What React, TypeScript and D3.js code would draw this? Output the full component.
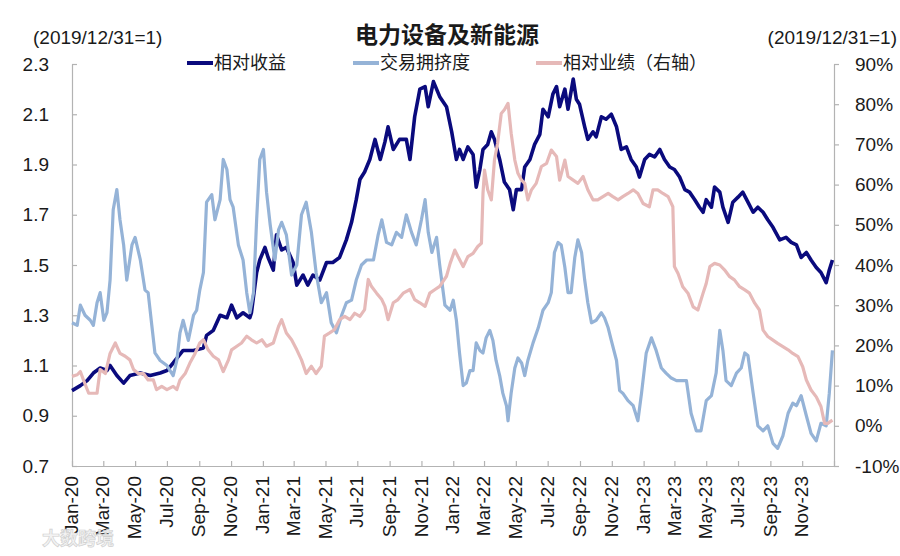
import {
  select,
  scaleTime,
  scaleLinear,
  axisLeft,
  axisRight,
  axisBottom,
  line,
  timeParse,
  timeFormat,
  timeMonth,
} from 'd3';
import { useRef, useEffect } from 'react';

// 相对收益 (left axis)
const relReturn: [string, number][] = [
  ['2020-01-01', 1.0], ['2020-01-17', 1.02], ['2020-01-30', 1.04], ['2020-02-11', 1.07],
  ['2020-02-24', 1.09], ['2020-03-08', 1.08], ['2020-03-14', 1.1], ['2020-03-27', 1.06],
  ['2020-04-09', 1.03], ['2020-04-21', 1.06], ['2020-05-11', 1.07], ['2020-05-30', 1.06],
  ['2020-06-18', 1.07], ['2020-07-01', 1.08], ['2020-07-13', 1.11], ['2020-08-01', 1.16],
  ['2020-08-21', 1.16], ['2020-09-09', 1.17], ['2020-09-15', 1.22], ['2020-09-28', 1.24],
  ['2020-10-11', 1.3], ['2020-10-24', 1.29], ['2020-11-02', 1.34], ['2020-11-12', 1.29],
  ['2020-11-24', 1.31], ['2020-12-07', 1.29], ['2020-12-10', 1.31], ['2020-12-20', 1.47],
  ['2020-12-26', 1.52], ['2021-01-05', 1.57], ['2021-01-11', 1.53], ['2021-01-21', 1.48],
  ['2021-01-27', 1.62], ['2021-02-06', 1.56], ['2021-02-15', 1.57], ['2021-02-28', 1.51],
  ['2021-03-07', 1.42], ['2021-03-19', 1.46], ['2021-03-28', 1.42], ['2021-04-07', 1.46],
  ['2021-04-20', 1.44], ['2021-05-03', 1.51], ['2021-05-15', 1.51], ['2021-05-28', 1.53],
  ['2021-06-10', 1.6], ['2021-06-20', 1.67], ['2021-06-29', 1.76], ['2021-07-06', 1.84],
  ['2021-07-15', 1.87], ['2021-07-25', 1.92], ['2021-08-04', 2.0], ['2021-08-14', 1.92],
  ['2021-08-23', 1.99], ['2021-08-29', 2.05], ['2021-09-08', 1.96], ['2021-09-20', 2.0],
  ['2021-10-03', 2.0], ['2021-10-10', 1.92], ['2021-10-19', 2.09], ['2021-10-29', 2.2],
  ['2021-11-08', 2.21], ['2021-11-14', 2.13], ['2021-11-24', 2.23], ['2021-12-06', 2.17],
  ['2021-12-19', 2.13], ['2021-12-29', 2.03], ['2022-01-07', 1.92], ['2022-01-13', 1.96],
  ['2022-01-20', 1.92], ['2022-01-29', 1.97], ['2022-02-08', 1.94], ['2022-02-14', 1.81],
  ['2022-02-21', 1.88], ['2022-02-27', 1.96], ['2022-03-08', 1.98], ['2022-03-15', 2.03],
  ['2022-03-21', 2.0], ['2022-03-31', 1.92], ['2022-04-09', 1.83], ['2022-04-19', 1.8],
  ['2022-04-26', 1.72], ['2022-05-02', 1.8], ['2022-05-12', 1.8], ['2022-05-18', 1.89],
  ['2022-05-28', 1.92], ['2022-06-06', 1.98], ['2022-06-16', 2.02], ['2022-06-22', 2.12],
  ['2022-07-02', 2.09], ['2022-07-11', 2.18], ['2022-07-18', 2.21], ['2022-07-24', 2.13],
  ['2022-08-03', 2.2], ['2022-08-09', 2.12], ['2022-08-19', 2.24], ['2022-08-25', 2.16],
  ['2022-08-31', 2.14], ['2022-09-10', 2.05], ['2022-09-16', 2.0], ['2022-09-26', 2.03],
  ['2022-10-02', 2.01], ['2022-10-12', 2.09], ['2022-10-21', 2.08], ['2022-10-31', 2.1],
  ['2022-11-10', 2.05], ['2022-11-19', 1.96], ['2022-11-29', 1.97], ['2022-12-08', 1.92],
  ['2022-12-18', 1.89], ['2022-12-24', 1.85], ['2023-01-03', 1.92], ['2023-01-12', 1.94],
  ['2023-01-22', 1.93], ['2023-02-01', 1.96], ['2023-02-10', 1.92], ['2023-02-20', 1.89],
  ['2023-03-01', 1.88], ['2023-03-11', 1.85], ['2023-03-21', 1.8], ['2023-03-30', 1.79],
  ['2023-04-09', 1.76], ['2023-04-18', 1.73], ['2023-04-25', 1.71], ['2023-05-01', 1.76],
  ['2023-05-11', 1.73], ['2023-05-17', 1.81], ['2023-05-27', 1.79], ['2023-06-02', 1.73],
  ['2023-06-12', 1.67], ['2023-06-21', 1.75], ['2023-07-01', 1.77], ['2023-07-10', 1.79],
  ['2023-07-20', 1.75], ['2023-07-30', 1.71], ['2023-08-08', 1.73], ['2023-08-18', 1.71],
  ['2023-08-27', 1.68], ['2023-09-06', 1.65], ['2023-09-19', 1.6], ['2023-10-01', 1.61],
  ['2023-10-11', 1.59], ['2023-10-21', 1.58], ['2023-10-30', 1.53], ['2023-11-09', 1.55],
  ['2023-11-18', 1.52], ['2023-11-28', 1.49], ['2023-12-07', 1.47], ['2023-12-17', 1.43],
  ['2023-12-23', 1.48], ['2023-12-29', 1.52],
];

// 交易拥挤度 (left axis)
const crowding: [string, number][] = [
  ['2020-01-01', 1.27], ['2020-01-11', 1.26], ['2020-01-17', 1.34], ['2020-01-26', 1.3],
  ['2020-02-05', 1.28], ['2020-02-11', 1.26], ['2020-02-18', 1.35], ['2020-02-24', 1.39],
  ['2020-03-02', 1.28], ['2020-03-08', 1.31], ['2020-03-14', 1.44], ['2020-03-20', 1.72],
  ['2020-03-27', 1.8], ['2020-04-02', 1.68], ['2020-04-09', 1.58], ['2020-04-15', 1.44],
  ['2020-04-25', 1.58], ['2020-05-01', 1.61], ['2020-05-11', 1.52], ['2020-05-20', 1.4],
  ['2020-05-26', 1.39], ['2020-06-02', 1.26], ['2020-06-08', 1.15], ['2020-06-18', 1.12],
  ['2020-07-01', 1.1], ['2020-07-13', 1.06], ['2020-07-20', 1.12], ['2020-07-26', 1.23],
  ['2020-08-01', 1.28], ['2020-08-11', 1.2], ['2020-08-21', 1.3], ['2020-08-27', 1.32],
  ['2020-09-02', 1.4], ['2020-09-09', 1.47], ['2020-09-15', 1.75], ['2020-09-25', 1.78],
  ['2020-10-01', 1.68], ['2020-10-11', 1.76], ['2020-10-17', 1.92], ['2020-10-24', 1.88],
  ['2020-10-30', 1.76], ['2020-11-05', 1.73], ['2020-11-15', 1.58], ['2020-11-24', 1.52],
  ['2020-12-01', 1.39], ['2020-12-07', 1.31], ['2020-12-14', 1.39], ['2020-12-20', 1.68],
  ['2020-12-26', 1.92], ['2021-01-02', 1.96], ['2021-01-08', 1.79], ['2021-01-15', 1.66],
  ['2021-01-24', 1.52], ['2021-01-31', 1.64], ['2021-02-06', 1.67], ['2021-02-15', 1.62],
  ['2021-02-25', 1.46], ['2021-03-07', 1.5], ['2021-03-16', 1.7], ['2021-03-25', 1.75],
  ['2021-04-04', 1.63], ['2021-04-13', 1.47], ['2021-04-23', 1.35], ['2021-05-03', 1.39],
  ['2021-05-12', 1.27], ['2021-05-22', 1.23], ['2021-06-01', 1.3], ['2021-06-10', 1.35],
  ['2021-06-20', 1.36], ['2021-06-29', 1.44], ['2021-07-09', 1.5], ['2021-07-19', 1.52],
  ['2021-08-01', 1.52], ['2021-08-10', 1.62], ['2021-08-17', 1.68], ['2021-08-26', 1.59],
  ['2021-09-05', 1.58], ['2021-09-14', 1.63], ['2021-09-24', 1.61], ['2021-10-03', 1.7],
  ['2021-10-13', 1.63], ['2021-10-22', 1.58], ['2021-11-01', 1.68], ['2021-11-08', 1.76],
  ['2021-11-14', 1.63], ['2021-11-21', 1.55], ['2021-11-30', 1.61], ['2021-12-06', 1.5],
  ['2021-12-16', 1.34], ['2021-12-26', 1.32], ['2022-01-01', 1.36], ['2022-01-07', 1.28],
  ['2022-01-13', 1.15], ['2022-01-20', 1.02], ['2022-01-26', 1.03], ['2022-02-02', 1.08],
  ['2022-02-08', 1.08], ['2022-02-14', 1.19], ['2022-02-21', 1.16], ['2022-02-27', 1.15],
  ['2022-03-05', 1.21], ['2022-03-12', 1.24], ['2022-03-18', 1.2], ['2022-03-24', 1.12],
  ['2022-03-31', 1.06], ['2022-04-06', 0.99], ['2022-04-13', 0.94], ['2022-04-16', 0.88],
  ['2022-04-22', 0.99], ['2022-04-29', 1.09], ['2022-05-05', 1.13], ['2022-05-12', 1.11],
  ['2022-05-18', 1.06], ['2022-05-24', 1.12], ['2022-06-03', 1.19], ['2022-06-13', 1.25],
  ['2022-06-22', 1.32], ['2022-07-02', 1.35], ['2022-07-08', 1.39], ['2022-07-14', 1.55],
  ['2022-07-21', 1.59], ['2022-07-27', 1.58], ['2022-08-03', 1.49], ['2022-08-09', 1.39],
  ['2022-08-15', 1.39], ['2022-08-22', 1.53], ['2022-08-28', 1.6], ['2022-09-04', 1.55],
  ['2022-09-10', 1.44], ['2022-09-16', 1.35], ['2022-09-23', 1.27], ['2022-10-02', 1.28],
  ['2022-10-12', 1.31], ['2022-10-18', 1.29], ['2022-10-25', 1.25], ['2022-10-31', 1.2],
  ['2022-11-10', 1.12], ['2022-11-16', 1.0], ['2022-11-22', 0.99], ['2022-12-02', 0.96],
  ['2022-12-12', 0.94], ['2022-12-21', 0.88], ['2022-12-28', 0.99], ['2023-01-06', 1.15],
  ['2023-01-16', 1.21], ['2023-01-25', 1.16], ['2023-02-04', 1.09], ['2023-02-13', 1.07],
  ['2023-02-23', 1.05], ['2023-03-05', 1.04], ['2023-03-14', 1.04], ['2023-03-24', 1.04],
  ['2023-04-02', 0.91], ['2023-04-12', 0.84], ['2023-04-21', 0.84], ['2023-05-01', 0.96],
  ['2023-05-11', 0.98], ['2023-05-20', 1.07], ['2023-05-27', 1.24], ['2023-06-02', 1.16],
  ['2023-06-08', 1.04], ['2023-06-18', 1.02], ['2023-06-28', 1.07], ['2023-07-07', 1.09],
  ['2023-07-14', 1.15], ['2023-07-20', 1.14], ['2023-07-30', 0.99], ['2023-08-08', 0.86],
  ['2023-08-18', 0.84], ['2023-08-27', 0.86], ['2023-09-06', 0.79], ['2023-09-15', 0.77],
  ['2023-09-25', 0.82], ['2023-10-05', 0.91], ['2023-10-14', 0.95], ['2023-10-21', 0.94],
  ['2023-10-30', 0.98], ['2023-11-09', 0.9], ['2023-11-18', 0.83], ['2023-11-28', 0.8],
  ['2023-12-07', 0.87], ['2023-12-17', 0.86], ['2023-12-23', 0.99], ['2023-12-29', 1.16],
];

// 相对业绩 (right axis, %)
const relPerf: [string, number][] = [
  ['2020-01-01', 12.3], ['2020-01-11', 12.7], ['2020-01-17', 13.5], ['2020-01-23', 11.4],
  ['2020-02-02', 8.1], ['2020-02-11', 8.1], ['2020-02-18', 8.1], ['2020-02-24', 14],
  ['2020-03-05', 13], ['2020-03-14', 18], ['2020-03-24', 20.6], ['2020-04-02', 18],
  ['2020-04-12', 17.3], ['2020-04-21', 16.4], ['2020-04-28', 14], ['2020-05-07', 13],
  ['2020-05-17', 13], ['2020-05-26', 11.4], ['2020-06-05', 11.4], ['2020-06-11', 9],
  ['2020-06-21', 9.8], ['2020-07-01', 9], ['2020-07-13', 9.8], ['2020-07-20', 9],
  ['2020-07-26', 11.4], ['2020-08-05', 13], ['2020-08-14', 15.6], ['2020-08-24', 18],
  ['2020-09-02', 20.6], ['2020-09-09', 21.4], ['2020-09-18', 18.9], ['2020-09-28', 17.3],
  ['2020-10-08', 16.4], ['2020-10-17', 13.5], ['2020-10-27', 16.4], ['2020-11-02', 18.9],
  ['2020-11-12', 19.8], ['2020-11-21', 20.6], ['2020-12-01', 22.3], ['2020-12-10', 21.4],
  ['2020-12-20', 20.6], ['2020-12-30', 21.4], ['2021-01-08', 19.8], ['2021-01-21', 20.6],
  ['2021-01-31', 24.7], ['2021-02-06', 26.4], ['2021-02-15', 23.1], ['2021-02-25', 21.4],
  ['2021-03-07', 18.9], ['2021-03-16', 16.4], ['2021-03-25', 13], ['2021-04-04', 14.8],
  ['2021-04-13', 13], ['2021-04-23', 14.8], ['2021-04-29', 22.3], ['2021-05-09', 23.1],
  ['2021-05-18', 23.9], ['2021-05-28', 26.4], ['2021-06-07', 27.2], ['2021-06-17', 26.4],
  ['2021-06-26', 28], ['2021-07-06', 27.2], ['2021-07-15', 28.9], ['2021-07-22', 36.4],
  ['2021-07-28', 34.7], ['2021-08-07', 33], ['2021-08-17', 31.4], ['2021-08-23', 29.7],
  ['2021-08-29', 26.4], ['2021-09-08', 30.6], ['2021-09-17', 31.4], ['2021-09-27', 33],
  ['2021-10-10', 33.9], ['2021-10-19', 31.4], ['2021-10-29', 30.6], ['2021-11-08', 29.7],
  ['2021-11-17', 33], ['2021-11-27', 33.9], ['2021-12-06', 34.7], ['2021-12-19', 37.2],
  ['2021-12-26', 40.4], ['2022-01-04', 43.7], ['2022-01-10', 42.1], ['2022-01-20', 39.6],
  ['2022-01-29', 42.1], ['2022-02-08', 42.9], ['2022-02-17', 44.6], ['2022-02-24', 45.4],
  ['2022-02-27', 57.8], ['2022-03-02', 63.6], ['2022-03-08', 58.7], ['2022-03-15', 56.2],
  ['2022-03-21', 66.1], ['2022-03-27', 70.3], ['2022-04-03', 77.7], ['2022-04-09', 78.6],
  ['2022-04-16', 80.2], ['2022-04-22', 72.8], ['2022-04-29', 66.1], ['2022-05-05', 62.8],
  ['2022-05-12', 61.1], ['2022-05-18', 60.3], ['2022-05-24', 56.2], ['2022-05-31', 58.7],
  ['2022-06-09', 60.3], ['2022-06-19', 64.5], ['2022-06-29', 65.3], ['2022-07-08', 68.6],
  ['2022-07-18', 67], ['2022-07-24', 61.1], ['2022-08-03', 66.1], ['2022-08-09', 62],
  ['2022-08-19', 61.1], ['2022-08-28', 60.3], ['2022-09-07', 62], ['2022-09-16', 58.7],
  ['2022-09-26', 56.2], ['2022-10-05', 56.2], ['2022-10-15', 57], ['2022-10-25', 57.8],
  ['2022-11-03', 57], ['2022-11-13', 56.2], ['2022-11-22', 57], ['2022-12-02', 57.8],
  ['2022-12-12', 58.7], ['2022-12-21', 57.8], ['2022-12-31', 55.3], ['2023-01-12', 54.5],
  ['2023-01-19', 58.7], ['2023-01-28', 58.7], ['2023-02-07', 57.8], ['2023-02-17', 57],
  ['2023-02-26', 54.5], ['2023-03-01', 39.6], ['2023-03-08', 37.9], ['2023-03-17', 34.6],
  ['2023-03-27', 33], ['2023-04-06', 29.6], ['2023-04-15', 28.8], ['2023-04-25', 33],
  ['2023-05-01', 35.4], ['2023-05-08', 39.6], ['2023-05-17', 40.4], ['2023-05-27', 40],
  ['2023-06-05', 38.8], ['2023-06-15', 37.1], ['2023-06-24', 36.3], ['2023-07-04', 34.6],
  ['2023-07-14', 33.8], ['2023-07-23', 33], ['2023-08-02', 30.5], ['2023-08-11', 28.8],
  ['2023-08-18', 23.8], ['2023-08-27', 22.2], ['2023-09-06', 21.3], ['2023-09-15', 20.5],
  ['2023-09-25', 19.7], ['2023-10-05', 18.9], ['2023-10-14', 18], ['2023-10-24', 17.2],
  ['2023-11-02', 14.7], ['2023-11-09', 11.4], ['2023-11-18', 8.9], ['2023-11-28', 7.2],
  ['2023-12-07', 4.8], ['2023-12-14', 0.6], ['2023-12-20', 0.6], ['2023-12-29', 1.4],
];

const leftTicks = [0.7, 0.9, 1.1, 1.3, 1.5, 1.7, 1.9, 2.1, 2.3];
const rightTicks = [-10, 0, 10, 20, 30, 40, 50, 60, 70, 80, 90];
const xStart = '2020-01-01';
const xEnd = '2024-01-01';

const title = '电力设备及新能源';
const baseLabel = '(2019/12/31=1)';
const seriesNames = ['相对收益', '交易拥挤度', '相对业绩（右轴）'];
const colors = ['#0a0a7d', '#95b3d7', '#e6b9b8'];

const W = 900;
const H = 556;
const margin = { top: 64, right: 66, bottom: 90, left: 72 };
const FONT = '"Liberation Sans", Arial, "Noto Sans CJK SC", sans-serif';
const CJK = '"Noto Sans CJK SC", "Liberation Sans", sans-serif';

const parse = timeParse('%Y-%m-%d');

const App = () => {
  const svgRef = useRef(null);

  useEffect(() => {
    const x = scaleTime()
      .domain([parse(xStart), parse(xEnd)])
      .range([margin.left, W - margin.right]);
    const yL = scaleLinear().domain([0.7, 2.3]).range([H - margin.bottom, margin.top]);
    const yR = scaleLinear().domain([-10, 90]).range([H - margin.bottom, margin.top]);

    const svg = select(svgRef.current);
    svg.selectAll('*').remove();

    const axisColor = '#b3b3b3';
    const styleAxis = (g) => {
      g.select('.domain').attr('stroke', axisColor).attr('stroke-width', 1.2);
      g.selectAll('line').attr('stroke', axisColor).attr('stroke-width', 1.2);
      g.selectAll('text')
        .attr('fill', '#1a1a1a')
        .attr('font-family', FONT)
        .attr('font-size', 19);
    };

    // left axis
    const gl = svg
      .append('g')
      .attr('transform', `translate(${margin.left},0)`)
      .call(axisLeft(yL).tickValues(leftTicks).tickSize(-5).tickSizeOuter(0).tickPadding(23).tickFormat((d) => d.toFixed(1)));
    styleAxis(gl);

    // right axis
    const gr = svg
      .append('g')
      .attr('transform', `translate(${W - margin.right},0)`)
      .call(axisRight(yR).tickValues(rightTicks).tickSize(5).tickSizeOuter(0).tickPadding(16).tickFormat((d) => `${d}%`));
    styleAxis(gr);

    // bottom axis
    const gb = svg
      .append('g')
      .attr('transform', `translate(0,${H - margin.bottom})`)
      .call(
        axisBottom(x)
          .ticks(timeMonth.every(2))
          .tickSize(-5)
          .tickSizeOuter(0)
          .tickFormat(timeFormat('%b-%y'))
      );
    styleAxis(gb);
    gb.selectAll('.tick')
      .filter((d) => +d >= +parse(xEnd))
      .select('text')
      .remove();
    gb.selectAll('text')
      .attr('text-anchor', 'end')
      .attr('transform', 'rotate(-90)')
      .attr('x', -10)
      .attr('y', -1)
      .attr('dy', '0.35em');

    // lines
    const lineL = line()
      .x((d) => x(parse(d[0])))
      .y((d) => yL(d[1]));
    const lineR = line()
      .x((d) => x(parse(d[0])))
      .y((d) => yR(d[1]));

    const series = [
      { data: relReturn, gen: lineL, color: colors[0], width: 3.6 },
      { data: crowding, gen: lineL, color: colors[1], width: 3.2 },
      { data: relPerf, gen: lineR, color: colors[2], width: 3.2 },
    ];
    svg
      .append('g')
      .selectAll('path')
      .data(series)
      .enter()
      .append('path')
      .attr('fill', 'none')
      .attr('stroke', (d) => d.color)
      .attr('stroke-width', (d) => d.width)
      .attr('stroke-linejoin', 'round')
      .attr('d', (d) => d.gen(d.data));

    // title and axis notes
    svg
      .append('text')
      .attr('x', 447)
      .attr('y', 43)
      .attr('text-anchor', 'middle')
      .attr('font-family', CJK)
      .attr('font-weight', 'bold')
      .attr('font-size', 23)
      .attr('fill', '#1a1a1a')
      .text(title);
    svg
      .append('text')
      .attr('x', 33)
      .attr('y', 44)
      .attr('font-family', FONT)
      .attr('font-size', 19)
      .attr('fill', '#1a1a1a')
      .text(baseLabel);
    svg
      .append('text')
      .attr('x', 897)
      .attr('y', 44)
      .attr('text-anchor', 'end')
      .attr('font-family', FONT)
      .attr('font-size', 19)
      .attr('fill', '#1a1a1a')
      .text(baseLabel);

    // legend
    const legendX = [187, 353, 536];
    const legend = svg
      .append('g')
      .selectAll('g')
      .data(seriesNames)
      .enter()
      .append('g')
      .attr('transform', (d, i) => `translate(${legendX[i]},63)`);
    legend
      .append('line')
      .attr('x1', 0)
      .attr('x2', 26)
      .attr('stroke', (d, i) => colors[i])
      .attr('stroke-width', 4);
    legend
      .append('text')
      .attr('x', 27)
      .attr('dy', '0.35em')
      .attr('font-family', CJK)
      .attr('font-size', 18)
      .attr('fill', '#1a1a1a')
      .text((d) => d);

    // watermark
    svg
      .append('text')
      .attr('x', 42)
      .attr('y', 545)
      .attr('font-family', CJK)
      .attr('font-weight', 'bold')
      .attr('font-size', 18)
      .attr('fill', '#f2f2f2')
      .attr('stroke', '#cccccc')
      .attr('stroke-width', 0.7)
      .attr('opacity', 0.9)
      .text('大数跨境');
  }, []);

  return (
    <svg
      ref={svgRef}
      width={W}
      height={H}
      style={{ position: 'absolute', left: 0, top: 0, background: '#fff' }}
    />
  );
};

export default App;
